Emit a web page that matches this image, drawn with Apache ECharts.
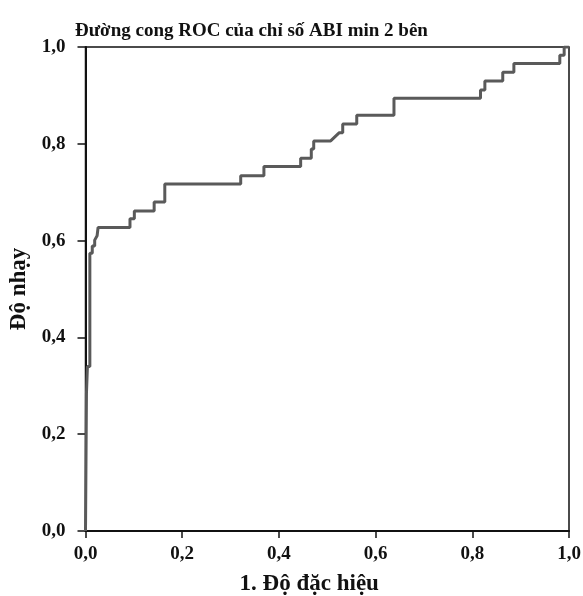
<!DOCTYPE html>
<html>
<head>
<meta charset="utf-8">
<script src="https://cdn.jsdelivr.net/npm/echarts@6/dist/echarts.min.js"></script>
<style>
  html, body { margin: 0; padding: 0; background: #fff; }
  #container { width: 583px; height: 596px; }
</style>
</head>
<body>
<div id="container"></div>
<script>
// 1 - độ đặc hiệu (trục hoành) và độ nhạy (trục tung)
var fpr = [0, 0.002, 0.004, 0.004, 0.009, 0.009, 0.014, 0.014, 0.019, 0.019, 0.024, 0.026,
  0.092, 0.092, 0.101, 0.101, 0.142, 0.142, 0.164, 0.164, 0.321, 0.321, 0.369, 0.369,
  0.445, 0.445, 0.467, 0.467, 0.472, 0.472, 0.507, 0.525, 0.532, 0.532, 0.561, 0.561,
  0.638, 0.638, 0.817, 0.817, 0.826, 0.826, 0.863, 0.863, 0.886, 0.886, 0.981, 0.981,
  0.990, 0.990, 1];
var tpr = [0, 0.285, 0.285, 0.34, 0.34, 0.574, 0.574, 0.589, 0.589, 0.601, 0.61, 0.627,
  0.627, 0.645, 0.645, 0.661, 0.661, 0.680, 0.680, 0.717, 0.717, 0.734, 0.734, 0.753,
  0.753, 0.770, 0.770, 0.789, 0.789, 0.806, 0.806, 0.823, 0.823, 0.841, 0.841, 0.859,
  0.859, 0.894, 0.894, 0.911, 0.911, 0.930, 0.930, 0.948, 0.948, 0.966, 0.966, 0.983,
  0.983, 1.0, 1.0];
var tieuDe = 'Đường cong ROC của chỉ số ABI min 2 bên';
var tenTrucX = '1. Độ đặc hiệu';
var tenTrucY = 'Độ nhạy';

var dom = document.getElementById('container');
var myChart = echarts.init(dom);
var font = '"Liberation Serif", "DejaVu Serif", serif';

var diem = [];
for (var i = 0; i < fpr.length; i++) {
  diem.push([fpr[i], tpr[i]]);
}

function nhan(v) {
  return v.toFixed(1).replace('.', ',');
}

var option = {
  animation: false,
  backgroundColor: '#fff',
  title: {
    text: tieuDe,
    left: 70,
    top: 17,
    textStyle: { fontFamily: font, fontWeight: 'bold', fontSize: 19, color: '#111' }
  },
  grid: {
    left: 85.5, right: 14, top: 47, bottom: 65,
    outerBoundsMode: 'none',
    show: true, borderColor: '#111', borderWidth: 1.5, backgroundColor: '#fff'
  },
  xAxis: {
    type: 'value', min: 0, max: 1, interval: 0.2,
    name: tenTrucX, nameLocation: 'middle', nameGap: 42,
    nameTextStyle: { fontFamily: font, fontWeight: 'bold', fontSize: 23, color: '#111', padding: [0, 36, 0, 0] },
    axisLine: { show: true, lineStyle: { color: '#111', width: 2 } },
    axisTick: { show: true, length: 7, lineStyle: { color: '#111', width: 1.5 } },
    axisLabel: { formatter: nhan, margin: 14, fontFamily: font, fontWeight: 'bold', fontSize: 19, color: '#111' },
    splitLine: { show: false }
  },
  yAxis: {
    type: 'value', min: 0, max: 1, interval: 0.2,
    name: tenTrucY, nameLocation: 'middle', nameGap: 54,
    nameTextStyle: { fontFamily: font, fontWeight: 'bold', fontSize: 23, color: '#111' },
    axisLine: { show: true, lineStyle: { color: '#111', width: 2 } },
    axisTick: { show: true, length: 8, lineStyle: { color: '#111', width: 1.5 } },
    axisLabel: { formatter: nhan, margin: 20, fontFamily: font, fontWeight: 'bold', fontSize: 19, color: '#111' },
    splitLine: { show: false }
  },
  series: [
    {
      name: 'ROC',
      type: 'line',
      data: diem,
      showSymbol: false,
      symbol: 'none',
      lineStyle: { color: '#5a5a5a', width: 3 },
      z: 1
    }
  ]
};
myChart.setOption(option, true);
</script>
</body>
</html>
